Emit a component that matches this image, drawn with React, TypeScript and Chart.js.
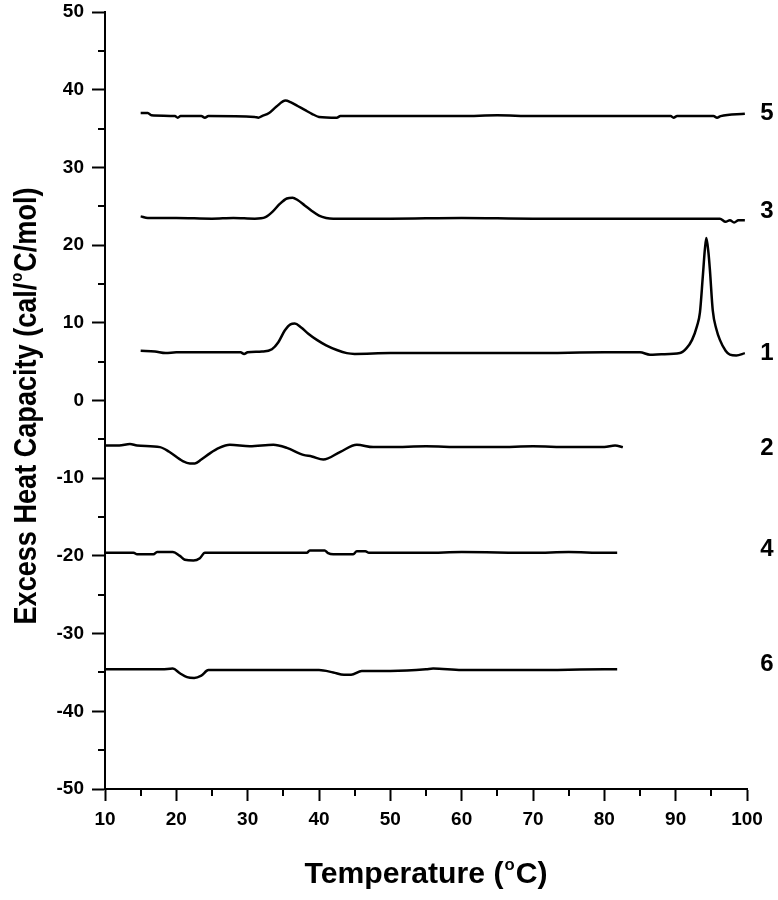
import React, { useEffect, useRef } from "react";
import { Chart, registerables } from "chart.js";

Chart.register(...registerables);

// ---- data ----
const curve5T = [15, 16, 16.5, 19.8, 20.2, 20.6, 23.5, 24, 24.5, 31, 31.5, 32, 33, 34, 35.3, 36, 37, 38, 39, 40, 42.5, 43, 50, 55, 60, 65, 70, 75, 80, 85, 89.3, 89.7, 90.2, 95.3, 95.8, 96.3, 99.7];
const curve5Cp = [37.0, 37.0, 36.7, 36.6, 36.4, 36.6, 36.6, 36.4, 36.6, 36.5, 36.4, 36.6, 37.0, 37.8, 38.6, 38.4, 37.9, 37.4, 36.9, 36.5, 36.4, 36.6, 36.6, 36.6, 36.6, 36.7, 36.6, 36.6, 36.6, 36.6, 36.6, 36.4, 36.6, 36.6, 36.4, 36.6, 36.9];

const curve3T = [15, 16, 20, 25, 28, 31, 32.5, 33.5, 34.5, 35.5, 36.3, 37, 38, 39, 40, 41, 42, 50, 60, 70, 80, 90, 95, 96.2, 97, 97.6, 98.2, 98.8, 99.7];
const curve3Cp = [23.7, 23.5, 23.5, 23.4, 23.5, 23.4, 23.6, 24.3, 25.3, 26.0, 26.1, 25.8, 25.1, 24.4, 23.8, 23.5, 23.4, 23.4, 23.5, 23.4, 23.4, 23.4, 23.4, 23.4, 23.0, 23.2, 22.9, 23.2, 23.2];

const curve1T = [15, 17, 18.5, 20, 25, 29, 29.5, 30, 32, 33.4, 34.3, 35.2, 36.0, 36.6, 37.5, 38.5, 39.7, 41, 42.5, 43.9, 45, 50, 60, 70, 80, 85, 86.4, 88, 90.6, 91.5, 92.3, 93.0, 93.4, 93.8, 94.1, 94.3, 94.6, 94.8, 95.2, 95.7, 96.2, 97, 97.6, 98.5, 99.7];
const curve1Cp = [6.4, 6.3, 6.1, 6.2, 6.2, 6.2, 6.0, 6.2, 6.3, 6.6, 7.5, 9.0, 9.8, 9.9, 9.4, 8.6, 7.8, 7.1, 6.5, 6.1, 6.0, 6.1, 6.1, 6.1, 6.2, 6.2, 5.9, 5.95, 6.1, 6.7, 7.8, 9.6, 11.3, 15.9, 19.5, 20.9, 19.0, 16.8, 11.6, 9.2, 7.8, 6.4, 5.9, 5.8, 6.1];

const curve2T = [10, 12, 13.5, 14.5, 17.7, 19, 20.9, 21.9, 22.6, 23.5, 24.7, 26, 27.5, 30.3, 33.6, 35.5, 37.8, 39, 40.6, 43, 45.3, 47.6, 50, 55, 60, 65, 70, 75, 80, 81.5, 82.6];
const curve2Cp = [-5.8, -5.8, -5.6, -5.8, -6.0, -6.6, -7.8, -8.1, -8.1, -7.6, -6.8, -6.1, -5.7, -5.9, -5.7, -6.1, -7.0, -7.2, -7.6, -6.6, -5.7, -6.0, -6.0, -5.9, -6.0, -6.0, -5.9, -6.0, -6.0, -5.8, -6.0];

const curve4T = [10, 14, 14.5, 16.8, 17.3, 19.5, 20.5, 21.2, 22.4, 23.3, 24, 30, 38.3, 38.7, 40.8, 41.2, 42, 44.8, 45.3, 46.5, 47, 55, 60, 70, 75, 80, 81.8];
const curve4Cp = [-19.6, -19.6, -19.8, -19.8, -19.5, -19.5, -20.0, -20.5, -20.6, -20.3, -19.6, -19.6, -19.6, -19.3, -19.3, -19.6, -19.8, -19.8, -19.4, -19.4, -19.6, -19.6, -19.5, -19.6, -19.5, -19.6, -19.6];

const curve6T = [10, 15, 18, 19.5, 20.5, 21.5, 22.5, 23.5, 24.5, 30, 40, 42, 43.5, 44.5, 46, 50, 55, 56, 60, 70, 80, 81.8];
const curve6Cp = [-34.6, -34.6, -34.6, -34.5, -35.1, -35.6, -35.7, -35.4, -34.7, -34.7, -34.7, -35.0, -35.3, -35.3, -34.8, -34.8, -34.6, -34.5, -34.7, -34.7, -34.6, -34.6];

const curveNames = ["5", "3", "1", "2", "4", "6"];
const curveLabelY = [37.0, 24.3, 6.1, -6.1, -19.2, -34.0];
const curveLabelT = 102.8;

const xMinorTicks = [15, 25, 35, 45, 55, 65, 75, 85, 95];
const yMinorTicks = [-45, -35, -25, -15, -5, 5, 15, 25, 35, 45];

const xTitleParts = ["Temperature (", "o", "C)"];
const yTitleParts = ["Excess Heat Capacity (cal/", "o", "C/mol)"];

const FONT = "'Liberation Sans', Arial, sans-serif";

function zip(t: number[], v: number[]) {
  return t.map((x, i) => ({ x, y: v[i] }));
}

function drawTitle(
  ctx: CanvasRenderingContext2D,
  parts: string[],
  size: number,
  supSize: number,
  targetWidth: number
) {
  const mainFont = `bold ${size}px ${FONT}`;
  const supFont = `bold ${supSize}px ${FONT}`;
  const widths = parts.map((p, i) => {
    ctx.font = i === 1 ? supFont : mainFont;
    return ctx.measureText(p).width;
  });
  const total = widths.reduce((a, b) => a + b, 0) + 2;
  const sx = targetWidth / total;
  ctx.scale(sx, 1);
  let x = -total / 2;
  ctx.textAlign = "left";
  ctx.textBaseline = "alphabetic";
  parts.forEach((p, i) => {
    ctx.font = i === 1 ? supFont : mainFont;
    const dy = i === 1 ? -size * 0.45 : 0;
    ctx.fillText(p, x + (i === 1 ? 1 : 0), dy);
    x += widths[i] + (i === 1 ? 2 : 0);
  });
}

const decorPlugin = {
  id: "decor",
  afterDraw(chart: any) {
    const ctx: CanvasRenderingContext2D = chart.ctx;
    const xs = chart.scales.x;
    const ys = chart.scales.y;
    const area = chart.chartArea;
    ctx.save();
    ctx.strokeStyle = "#000";
    ctx.fillStyle = "#000";
    ctx.lineWidth = 2;
    // minor ticks
    xMinorTicks.forEach((v) => {
      const px = Math.round(xs.getPixelForValue(v));
      ctx.beginPath();
      ctx.moveTo(px, area.bottom);
      ctx.lineTo(px, area.bottom + 7);
      ctx.stroke();
    });
    yMinorTicks.forEach((v) => {
      const py = Math.round(ys.getPixelForValue(v));
      ctx.beginPath();
      ctx.moveTo(area.left, py);
      ctx.lineTo(area.left - 7, py);
      ctx.stroke();
    });
    // curve labels
    ctx.font = `bold 24px ${FONT}`;
    ctx.textAlign = "center";
    ctx.textBaseline = "middle";
    curveNames.forEach((n, i) => {
      ctx.fillText(n, xs.getPixelForValue(curveLabelT), ys.getPixelForValue(curveLabelY[i]));
    });
    // x title
    ctx.save();
    ctx.translate((area.left + area.right) / 2, 883);
    drawTitle(ctx, xTitleParts, 29, 16, 243);
    ctx.restore();
    // y title
    ctx.save();
    ctx.translate(36, 406);
    ctx.rotate(-Math.PI / 2);
    drawTitle(ctx, yTitleParts, 31, 17, 437);
    ctx.restore();
    ctx.restore();
  },
};

export default function App() {
  const ref = useRef<HTMLCanvasElement | null>(null);
  useEffect(() => {
    if (!ref.current) return;
    const series = [
      zip(curve5T, curve5Cp),
      zip(curve3T, curve3Cp),
      zip(curve1T, curve1Cp),
      zip(curve2T, curve2Cp),
      zip(curve4T, curve4Cp),
      zip(curve6T, curve6Cp),
    ];
    const chart = new Chart(ref.current, {
      type: "line",
      data: {
        datasets: series.map((d, i) => ({
          label: curveNames[i],
          data: d,
          borderColor: "#000",
          borderWidth: 2.5,
          pointRadius: 0,
          cubicInterpolationMode: "monotone" as const,
          fill: false,
        })),
      },
      options: {
        animation: false,
        responsive: false,
        devicePixelRatio: 1,
        layout: { padding: { top: 12, right: 31, left: 0, bottom: 0 } },
        plugins: {
          legend: { display: false },
          tooltip: { enabled: false },
          title: { display: false },
        },
        scales: {
          x: {
            type: "linear",
            min: 10,
            max: 100,
            ticks: {
              stepSize: 10,
              color: "#000",
              padding: 7,
              font: { family: FONT, size: 19, weight: "bold" },
              maxRotation: 0,
            },
            grid: {
              display: true,
              drawOnChartArea: false,
              drawTicks: true,
              tickLength: 12,
              tickWidth: 2,
              tickColor: "#000",
            },
            border: { display: true, color: "#000", width: 2 },
            afterFit: (s: any) => {
              s.height = 111;
            },
          },
          y: {
            type: "linear",
            min: -50,
            max: 50,
            ticks: {
              stepSize: 10,
              color: "#000",
              padding: 8,
              font: { family: FONT, size: 19, weight: "bold", lineHeight: 0.4 },
            },
            grid: {
              display: true,
              drawOnChartArea: false,
              drawTicks: true,
              tickLength: 13,
              tickWidth: 2,
              tickColor: "#000",
            },
            border: { display: true, color: "#000", width: 2 },
            afterFit: (s: any) => {
              s.width = 105;
            },
          },
        },
      },
      plugins: [decorPlugin],
    });
    return () => chart.destroy();
  }, []);
  return (
    <div style={{ position: "fixed", left: 0, top: 0, width: 778, height: 900, background: "#fff" }}>
      <canvas ref={ref} width={778} height={900} style={{ display: "block", width: 778, height: 900 }} />
    </div>
  );
}
